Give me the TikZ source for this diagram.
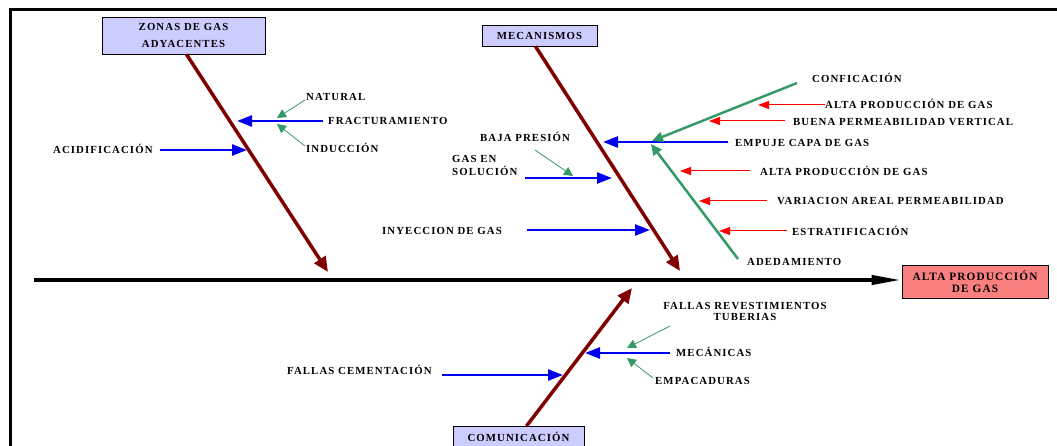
\documentclass[tikz,border=0pt]{standalone}
\usepackage{fontspec}
\setmainfont{Liberation Serif}
\newfontfamily\lblfont[LetterSpace=10]{Liberation Serif}
\usetikzlibrary{arrows.meta}
\definecolor{bonecol}{RGB}{128,0,0}
\definecolor{bluecol}{RGB}{0,0,240}
\definecolor{greencol}{RGB}{51,153,102}
\definecolor{redcol}{RGB}{255,0,0}
\definecolor{lavcol}{RGB}{204,204,255}
\definecolor{salmcol}{RGB}{250,128,128}
\tikzset{
  lbl/.style={font=\lblfont\bfseries\fontsize{10.8}{13}\selectfont, inner sep=0pt, anchor=base west},
  catbox/.style={draw=black, line width=0.8pt, fill=lavcol, inner sep=0pt, font=\lblfont\bfseries\fontsize{10.8}{17}\selectfont, align=center},
  resbox/.style={draw=black, line width=0.8pt, fill=salmcol, inner sep=0pt, font=\lblfont\bfseries\fontsize{11.3}{12.5}\selectfont, align=center},
  bone/.style={draw=bonecol, line width=3.5pt, -{Triangle[length=15pt,width=13pt]}},
  bluearr/.style={draw=bluecol, line width=2.5pt, -{Triangle[length=15pt,width=11pt]}},
  greenthin/.style={draw=greencol, line width=0.8pt, -{Triangle[length=9pt,width=9pt]}},
  greenthick/.style={draw=greencol, line width=2.5pt, -{Triangle[length=11pt,width=10pt]}},
  redthin/.style={draw=redcol, line width=1pt, -{Triangle[length=11pt,width=8pt]}},
  spine/.style={draw=black, line width=4pt, -{Triangle[length=30pt,width=9pt]}},
}
\begin{document}
\begin{tikzpicture}[x=1pt,y=-1pt]
\useasboundingbox (0,0) rectangle (1057,446);
\clip (0,0) rectangle (1057,446);
% frame
\draw[line width=3pt] (10,447) -- (10,10) -- (1058,10);

% boxes
\node[catbox, minimum width=163pt, minimum height=37pt] (zonas) at (183.5,35.5) {ZONAS DE GAS\\ADYACENTES};
\node[catbox, minimum width=115pt, minimum height=21pt] (meca) at (539.5,35.5) {MECANISMOS};
\node[catbox, minimum width=131pt, minimum height=24pt, anchor=north] (comu) at (518.5,426) {COMUNICACIÓN\strut};
\node[resbox, minimum width=146pt, minimum height=33pt] (res) at (975,281.5) {ALTA PRODUCCIÓN\\DE GAS};

% spine
\coordinate (spS) at (34,280);
\draw[spine] (spS) -- (spS -| res.west);

% bones
\coordinate (b1T) at (328,272);
\coordinate (b2T) at (680,271);
\coordinate (b3T) at (632,288);
\draw[bone] (zonas.south) ++(3,0) coordinate (b1S) (b1S) -- (b1T);
\draw[bone] (meca.south) ++(-4,0) coordinate (b2S) (b2S) -- (b2T);
\draw[bone] (comu.north) ++(8,0) coordinate (b3S) (b3S) -- (b3T);

% labels
\node[lbl] (acid) at (53,153.6) {ACIDIFICACIÓN};
\node[lbl] (natu) at (306,100.6) {NATURAL};
\node[lbl] (frac) at (328,124.6) {FRACTURAMIENTO};
\node[lbl] (indu) at (306,152.6) {INDUCCIÓN};
\node[lbl] (baja) at (480,141.6) {BAJA PRESIÓN};
\node[lbl, align=left] (gasen) at (452,175.6) {GAS EN\\SOLUCIÓN};
\node[lbl] (inye) at (382,234.6) {INYECCION DE GAS};
\node[lbl] (conf) at (812,82.6) {CONFICACIÓN};
\node[lbl] (alta1) at (825,108.6) {ALTA PRODUCCIÓN DE GAS};
\node[lbl] (buena) at (793,125.6) {BUENA PERMEABILIDAD VERTICAL};
\node[lbl] (empu) at (735,146.6) {EMPUJE CAPA DE GAS};
\node[lbl] (alta2) at (760,175.6) {ALTA PRODUCCIÓN DE GAS};
\node[lbl] (vari) at (777,204.6) {VARIACION AREAL PERMEABILIDAD};
\node[lbl] (estr) at (792,235.6) {ESTRATIFICACIÓN};
\node[lbl] (aded) at (747,265.6) {ADEDAMIENTO};
\node[lbl] (fcem) at (287,374.6) {FALLAS CEMENTACIÓN};
\node[lbl, align=center, anchor=base] (frev) at (745,320.6) {FALLAS REVESTIMIENTOS\\[-1.5pt]TUBERIAS};
\node[lbl] (meca2) at (676,356.6) {MECÁNICAS};
\node[lbl] (empa) at (655,384.6) {EMPACADURAS};

% blue arrows
\coordinate (acidS) at (160,150); \coordinate (acidT) at (247,150);
\coordinate (fracS) at (323,121); \coordinate (fracT) at (237,121);
\coordinate (solS) at (525,178);  \coordinate (solT) at (612,178);
\coordinate (inyS) at (527,230);  \coordinate (inyT) at (650,230);
\coordinate (empS) at (728,142);  \coordinate (empT) at (603,142);
\coordinate (cemS) at (442,375);  \coordinate (cemT) at (563,375);
\coordinate (mecS) at (670,353);  \coordinate (mecT) at (585,353);
\draw[bluearr] (acidS) -- (acidT);
\draw[bluearr] (fracS) -- (fracT);
\draw[bluearr] (solS) -- (solT);
\draw[bluearr] (inyS) -- (inyT);
\draw[bluearr] (empS) -- (empT);
\draw[bluearr] (cemS) -- (cemT);
\draw[bluearr] (mecS) -- (mecT);

% green thin arrows
\coordinate (natS) at (305,100);  \coordinate (natT) at (277,118);
\coordinate (indS) at (305,146);  \coordinate (indT) at (277,124);
\coordinate (bajS) at (535,150);  \coordinate (bajT) at (573,176);
\coordinate (falS) at (670,326);  \coordinate (falT) at (627,348);
\coordinate (empaS) at (653,378); \coordinate (empaT) at (627,358);
\draw[greenthin] (natS) -- (natT);
\draw[greenthin] (indS) -- (indT);
\draw[greenthin] (bajS) -- (bajT);
\draw[greenthin] (falS) -- (falT);
\draw[greenthin] (empaS) -- (empaT);

% green thick arrows
\coordinate (confS) at (797,83);  \coordinate (confT) at (652,141);
\coordinate (adeS) at (738,259);  \coordinate (adeT) at (651,144);
\draw[greenthick] (confS) -- (confT);
\draw[greenthick] (adeS) -- (adeT);

% red thin arrows
\coordinate (r1S) at (825,105); \coordinate (r1T) at (758,105);
\coordinate (r2S) at (785,121); \coordinate (r2T) at (709,121);
\coordinate (r3S) at (750,171); \coordinate (r3T) at (680,171);
\coordinate (r4S) at (767,201); \coordinate (r4T) at (699,201);
\coordinate (r5S) at (787,231); \coordinate (r5T) at (719,231);
\draw[redthin] (r1S) -- (r1T);
\draw[redthin] (r2S) -- (r2T);
\draw[redthin] (r3S) -- (r3T);
\draw[redthin] (r4S) -- (r4T);
\draw[redthin] (r5S) -- (r5T);
\end{tikzpicture}
\end{document}
